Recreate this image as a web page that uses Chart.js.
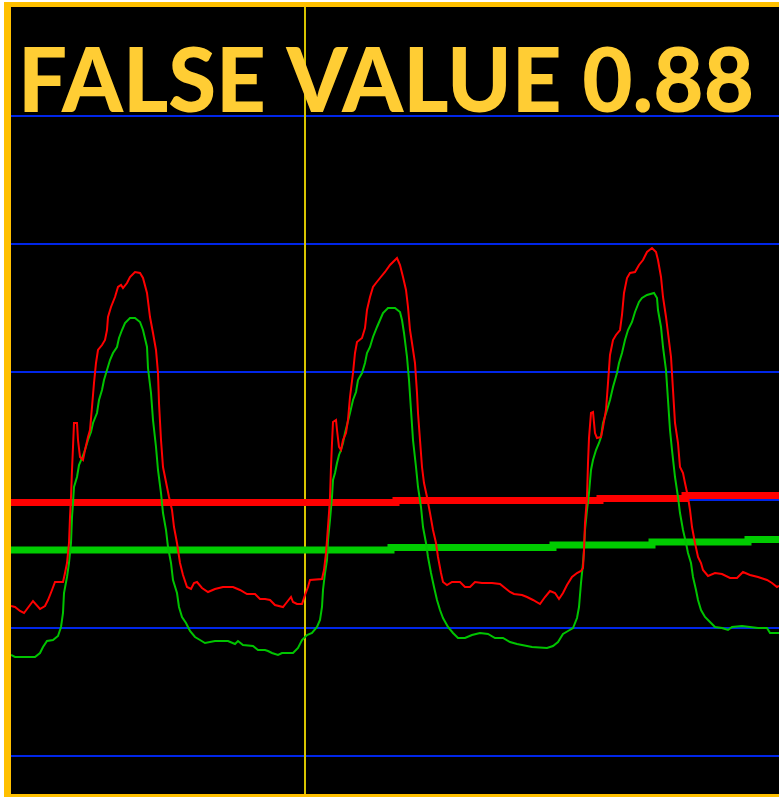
<!DOCTYPE html>
<html>
<head>
<meta charset="utf-8">
<script src="https://cdn.jsdelivr.net/npm/chart.js@4"></script>
<style>
  body { margin: 0; background: #fff; }
  canvas { display: block; }
</style>
</head>
<body>
<canvas id="scopeChart" width="779" height="797"></canvas>
<script>
// signal samples (time, level)
const redT = [0,4,9,13,16,22,29,34,37,41,44,52,54,56,58,59,60,61,62,63,66,67,69,72,74,77,79,81,83,85,87,91,94,96,97,100,104,107,110,112,116,119,124,129,132,136,139,142,145,147,148,150,152,156,158,161,163,166,169,172,176,180,183,186,191,197,204,212,222,229,236,244,249,254,259,264,272,276,280,282,286,291,294,297,299,311,313,315,316,318,319,320,321,322,325,326,328,330,332,335,337,339,342,344,346,351,354,356,359,362,365,369,374,379,386,389,392,395,397,399,401,404,406,407,409,411,413,416,419,422,425,427,430,432,436,441,449,454,459,464,471,481,489,494,499,503,511,516,522,529,534,539,544,548,552,556,561,566,570,572,573,574,576,577,578,580,582,584,586,590,592,595,597,599,602,605,609,611,613,616,619,624,628,632,636,641,645,647,650,652,655,657,660,662,664,667,669,672,674,677,679,681,684,687,690,692,697,704,711,719,726,732,739,747,756,761,766,768];
const redV = [150,149,145,143,147,155,147,150,156,166,174,174,183,193,213,239,259,286,309,333,333,316,299,296,306,319,326,349,373,393,406,411,416,426,439,449,459,469,471,468,473,479,484,483,478,463,439,423,406,383,353,316,289,269,259,246,229,213,193,181,169,167,173,174,168,164,167,169,169,166,162,162,157,157,156,151,149,154,159,154,152,152,161,169,176,177,186,203,216,243,259,289,313,334,336,326,309,306,316,323,336,359,383,403,414,418,428,446,459,469,473,478,484,491,498,491,479,466,449,426,413,393,363,343,316,289,273,259,243,226,213,199,183,174,171,174,174,169,169,174,173,173,172,168,164,162,161,159,156,152,159,165,163,157,163,171,179,183,185,188,206,233,259,293,318,343,344,323,318,319,329,346,373,401,416,421,426,441,463,478,483,484,491,496,504,508,504,496,479,459,439,423,399,366,333,313,289,283,273,259,246,229,213,199,193,186,180,183,182,178,178,184,181,179,176,173,169,170];
const greenT = [0,4,24,29,32,36,42,47,50,52,53,56,58,60,61,62,63,66,68,71,74,77,80,82,86,88,91,93,96,99,102,106,108,111,114,119,124,129,132,136,137,140,142,145,147,150,152,155,157,160,162,166,168,171,175,179,184,189,194,204,217,224,227,232,242,247,254,257,261,267,271,282,287,291,296,301,306,309,311,312,314,316,317,319,321,322,324,326,328,330,332,334,336,339,342,345,347,351,354,356,359,362,366,369,372,377,384,389,391,393,396,398,400,402,405,407,410,412,415,417,420,423,426,429,432,437,442,447,454,461,469,477,484,492,499,506,521,536,542,547,552,557,562,566,568,570,572,573,574,576,578,580,582,585,588,590,592,596,599,602,606,608,611,614,617,621,624,628,631,636,643,646,647,650,652,655,657,659,661,664,667,669,672,675,677,680,682,685,687,690,694,699,704,711,717,721,731,739,747,756,759,768];
const greenV = [101,99,99,103,109,115,116,120,129,143,163,179,193,213,239,253,269,279,291,298,306,316,324,333,343,356,366,376,386,396,403,409,418,426,433,438,438,434,426,409,388,363,336,309,286,263,243,226,209,193,176,163,149,139,133,125,119,116,113,115,115,112,115,111,110,106,106,105,103,101,103,103,108,116,121,123,129,136,149,166,183,196,216,236,259,276,283,293,301,306,313,323,331,343,356,364,376,383,393,403,409,419,429,436,443,448,448,444,436,423,399,376,346,316,289,269,249,229,213,199,183,169,156,146,138,129,123,118,118,121,123,122,118,118,114,112,109,108,110,114,122,125,128,138,149,173,193,206,226,246,263,286,296,306,313,319,333,346,356,369,383,393,403,416,426,434,444,454,458,461,463,458,446,429,409,386,356,326,306,279,259,243,226,213,203,193,179,166,156,146,139,134,129,128,126,129,130,129,128,128,123,123];

// running averages (stepped)
const redAvgT = [0, 385, 589, 674, 768];
const redAvgV = [253.5, 255.5, 257.5, 260.5, 260.5];
const greenAvgT = [0, 380, 542, 641, 737, 768];
const greenAvgV = [206, 208.5, 211, 214, 216.5, 216.5];

const gridLevels = [0, 128, 256, 384, 512, 640];
const levelMin = -38;
const levelMax = 749;
const timeMax = 768;
const cursorT = 294;
const titleText = "FALSE VALUE 0.88";

const pts = (ts, vs) => ts.map((t, i) => ({ x: t, y: vs[i] }));

const framePlugin = {
  id: "frame",
  beforeDraw(chart) {
    const { ctx, chartArea: a, width, height } = chart;
    ctx.save();
    ctx.fillStyle = "#ffffff";
    ctx.fillRect(0, 0, width, height);
    ctx.fillStyle = "#ffc000";
    ctx.fillRect(4, 2, width - 4, height - 2);
    ctx.fillStyle = "#000000";
    ctx.fillRect(a.left, a.top, a.right - a.left, a.bottom - a.top);
    ctx.restore();
  },
  afterDraw(chart) {
    const ctx = chart.ctx;
    ctx.save();
    ctx.font = "900 89px Lato";
    ctx.fillStyle = "#ffcd34";
    ctx.textBaseline = "alphabetic";
    const w = ctx.measureText(titleText).width;
    ctx.translate(18, 112);
    ctx.scale(736 / w, 1);
    ctx.fillText(titleText, 0, 0);
    ctx.restore();
  }
};

document.addEventListener("DOMContentLoaded", function () {
  const ctx = document.getElementById("scopeChart").getContext("2d");
  new Chart(ctx, {
    type: "line",
    data: {
      datasets: [
        { label: "red", data: pts(redT, redV), borderColor: "#ff0000", borderWidth: 2 },
        { label: "green", data: pts(greenT, greenV), borderColor: "#00c400", borderWidth: 2 },
        { label: "red avg", data: pts(redAvgT, redAvgV), borderColor: "#ff0000", borderWidth: 7, stepped: true },
        { label: "green avg", data: pts(greenAvgT, greenAvgV), borderColor: "#00cc00", borderWidth: 7, stepped: true },
        { label: "cursor", data: [{ x: cursorT, y: levelMin }, { x: cursorT, y: levelMax }], borderColor: "#d8c400", borderWidth: 2 }
      ]
    },
    options: {
      responsive: false,
      animation: false,
      layout: { padding: { left: 11, top: 7, right: 0, bottom: 3 } },
      elements: {
        point: { radius: 0 },
        line: { tension: 0, borderCapStyle: "butt" }
      },
      plugins: {
        legend: { display: false },
        tooltip: { enabled: false }
      },
      scales: {
        x: { type: "linear", min: 0, max: timeMax, display: false },
        y: {
          type: "linear",
          min: levelMin,
          max: levelMax,
          afterBuildTicks: (axis) => { axis.ticks = gridLevels.map(v => ({ value: v })); },
          ticks: { display: false },
          border: { display: false },
          grid: { color: "#0026e8", lineWidth: 2, drawTicks: false }
        }
      }
    },
    plugins: [framePlugin]
  });
});
</script>
</body>
</html>
